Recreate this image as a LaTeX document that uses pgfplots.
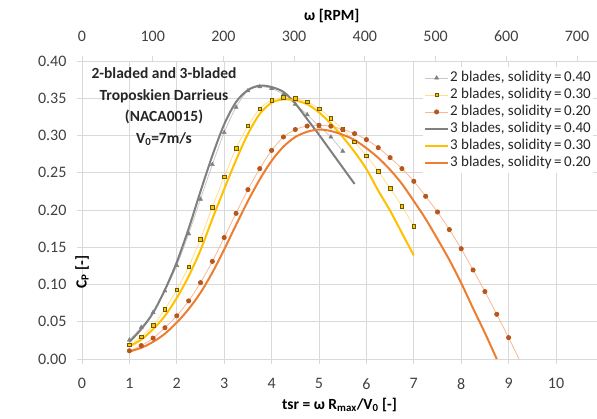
\documentclass[border=0pt]{standalone}
\usepackage{fontspec}
\setmainfont{Carlito}
\usepackage{pgfplots}
\pgfplotsset{compat=1.18}

\definecolor{gridgray}{HTML}{D9D9D9}
\definecolor{ticktext}{HTML}{404040}
\definecolor{grayline}{HTML}{7F7F7F}
\definecolor{graylight}{HTML}{C8C8C8}
\definecolor{yelline}{HTML}{FFC000}
\definecolor{yellight}{HTML}{FFE08A}
\definecolor{yeledge}{HTML}{6B5A00}
\definecolor{orline}{HTML}{ED7D31}
\definecolor{orlight}{HTML}{F6B994}
\definecolor{ordot}{HTML}{B8561B}

\begin{document}
\begin{tikzpicture}
\pgfplotsset{
  chartbox/.style={
    scale only axis, width=515pt, height=298pt,
    at={(82pt,60pt)}, anchor=south west,
    tick label style={font=\fontsize{16}{19}\selectfont, text=ticktext},
    label style={font=\fontsize{15.5}{18}\selectfont\bfseries},
    /pgf/number format/assume math mode=true,
    tick align=outside, major tick length=5pt,
    tick style={gridgray, line width=0.8pt},
    axis line style={gridgray, line width=0.8pt},
  },
  /pgfplots/legend image code/.code={%
    \draw[mark repeat=2,mark phase=2,#1] plot coordinates {(0pt,0pt) (11.5pt,0pt) (23pt,0pt)};},
}
\begin{axis}[
  chartbox,
  axis x line*=bottom, axis y line*=left,
  xmin=0, xmax=10.865, ymin=0, ymax=0.4,
  xtick={0,1,2,3,4,5,6,7,8,9,10},
  ytick={0,0.05,0.10,0.15,0.20,0.25,0.30,0.35,0.40},
  yticklabel style={/pgf/number format/.cd, fixed, fixed zerofill, precision=2, /tikz/.cd, xshift=-7pt},
  xticklabel style={yshift=-11pt},
  grid=major, grid style={gridgray, line width=0.8pt},
  xlabel={tsr = ω R\textsubscript{max}/V\textsubscript{0} [-]},
  ylabel={C\textsubscript{P} [-]},
  xlabel style={at={(axis description cs:0.5,0)}, anchor=center, yshift=-46pt},
  ylabel style={at={(axis description cs:0,0.5)}, anchor=center, rotate=0, xshift=-62pt},
  legend cell align=left,
  legend style={at={(rel axis cs:0.662,0.979)}, anchor=north west, draw=none, fill=white,
    font=\fontsize{15}{18}\selectfont, text=black!85, inner xsep=1pt, inner ysep=2pt, row sep=0pt,
    nodes={inner sep=1pt, text height=11pt, text depth=4pt}},
  clip=false,
]
% 2 blades, solidity 0.40
\addplot[graylight, line width=0.8pt, smooth, mark=triangle*, mark size=2.4pt,
  mark options={fill=grayline, draw=grayline, line width=0.4pt}] coordinates {
  (1.0,0.0255) (1.25,0.0425) (1.5,0.0625) (1.75,0.0915) (2.0,0.1255) (2.25,0.168)
  (2.5,0.2145) (2.75,0.261) (3.0,0.304) (3.25,0.338) (3.5,0.360) (3.75,0.3655)
  (4.0,0.363) (4.25,0.355) (4.5,0.342) (4.75,0.328) (5.0,0.3125) (5.25,0.298) (5.5,0.279)
};
\addlegendentry{2 blades, solidity\,=\,0.40}
% 2 blades, solidity 0.30
\addplot[yellight, line width=0.8pt, smooth, mark=square*, mark size=1.8pt,
  mark options={fill=yelline, draw=yeledge, line width=0.6pt}] coordinates {
  (1.0,0.019) (1.25,0.030) (1.5,0.045) (1.75,0.067) (2.0,0.093) (2.25,0.124)
  (2.5,0.161) (2.75,0.204) (3.0,0.2445) (3.25,0.2825) (3.5,0.313) (3.75,0.336)
  (4.0,0.3475) (4.25,0.351) (4.5,0.3497) (4.75,0.345) (5.0,0.336) (5.25,0.3227)
  (5.5,0.308) (5.75,0.2915) (6.0,0.273) (6.25,0.252) (6.5,0.229) (6.75,0.205) (7.0,0.178)
};
\addlegendentry{2 blades, solidity\,=\,0.30}
% 2 blades, solidity 0.20
\addplot[orlight, line width=0.8pt, smooth, mark=*, mark size=2.1pt,
  mark options={fill=ordot, draw=ordot}] coordinates {
  (1.0,0.011) (1.25,0.018) (1.5,0.028) (1.75,0.042) (2.0,0.058) (2.25,0.078)
  (2.5,0.1025) (2.75,0.131) (3.0,0.163) (3.25,0.1955) (3.5,0.2273) (3.75,0.2555)
  (4.0,0.280) (4.25,0.298) (4.5,0.308) (4.75,0.3127) (5.0,0.3137) (5.25,0.3125)
  (5.5,0.308) (5.75,0.3025) (6.0,0.2945) (6.25,0.2837) (6.5,0.2703) (6.75,0.2555)
  (7.0,0.2385) (7.25,0.2184) (7.5,0.1973) (7.75,0.1737) (8.0,0.148) (8.25,0.1195)
  (8.5,0.0905) (8.75,0.060) (9.0,0.0287)
};
\addlegendentry{2 blades, solidity\,=\,0.20}
\addplot[orlight, line width=0.8pt, forget plot] coordinates {(9.0,0.0287) (9.22,0.0)};
% 3 blades, solidity 0.40
\addplot[grayline, line width=2pt, smooth, no marks] coordinates {
  (1.0,0.023) (1.25,0.040) (1.5,0.062) (1.75,0.093) (2.0,0.130) (2.25,0.175)
  (2.5,0.225) (2.75,0.273) (3.0,0.315) (3.25,0.345) (3.5,0.361) (3.75,0.367)
  (4.0,0.365) (4.25,0.3585) (4.5,0.343) (4.75,0.322) (5.0,0.301) (5.25,0.279)
  (5.5,0.257) (5.75,0.235)
};
\addlegendentry{3 blades, solidity\,=\,0.40}
% 3 blades, solidity 0.30
\addplot[yelline, line width=2pt, smooth, no marks] coordinates {
  (1.0,0.017) (1.25,0.026) (1.5,0.040) (1.75,0.058) (2.0,0.082) (2.25,0.111)
  (2.5,0.146) (2.75,0.188) (3.0,0.228) (3.25,0.267) (3.5,0.302) (3.75,0.329)
  (4.0,0.344) (4.25,0.3485) (4.5,0.347) (4.75,0.342) (5.0,0.331) (5.25,0.316)
  (5.5,0.298) (5.75,0.278) (6.0,0.255) (6.25,0.226) (6.5,0.199) (6.75,0.169) (7.0,0.139)
};
\addlegendentry{3 blades, solidity\,=\,0.30}
% 3 blades, solidity 0.20
\addplot[orline, line width=2pt, smooth, no marks] coordinates {
  (1.0,0.010) (1.25,0.015) (1.5,0.023) (1.75,0.034) (2.0,0.049) (2.25,0.067)
  (2.5,0.089) (2.75,0.116) (3.0,0.147) (3.25,0.180) (3.5,0.212) (3.75,0.241)
  (4.0,0.266) (4.25,0.285) (4.5,0.298) (4.75,0.305) (5.0,0.308) (5.25,0.306)
  (5.5,0.301) (5.75,0.294) (6.0,0.283) (6.25,0.270) (6.5,0.254) (6.75,0.235)
  (7.0,0.212) (7.25,0.188) (7.5,0.161) (7.75,0.133) (8.0,0.102) (8.25,0.068)
  (8.5,0.035) (8.75,0.0)
};
\addlegendentry{3 blades, solidity\,=\,0.20}

\node[align=center, font=\fontsize{15.5}{21.5}\selectfont\bfseries, text=black!85]
  at (axis cs:1.73,0.339)
  {2-bladed and 3-bladed\\Troposkien Darrieus\\(NACA0015)\\V\textsubscript{0}=7m/s};
\end{axis}

\begin{axis}[
  chartbox,
  axis x line*=top, axis y line=none,
  xmin=0, xmax=728.3, ymin=0, ymax=1,
  xtick={0,100,200,300,400,500,600,700},
  xticklabel style={yshift=11pt},
  xlabel={ω [RPM]},
  xlabel style={at={(axis description cs:0.485,1)}, anchor=center, yshift=45pt},
]
\end{axis}

\pgfresetboundingbox
\path[use as bounding box] (0pt,0pt) rectangle (597pt,419pt);
\end{tikzpicture}
\end{document}
